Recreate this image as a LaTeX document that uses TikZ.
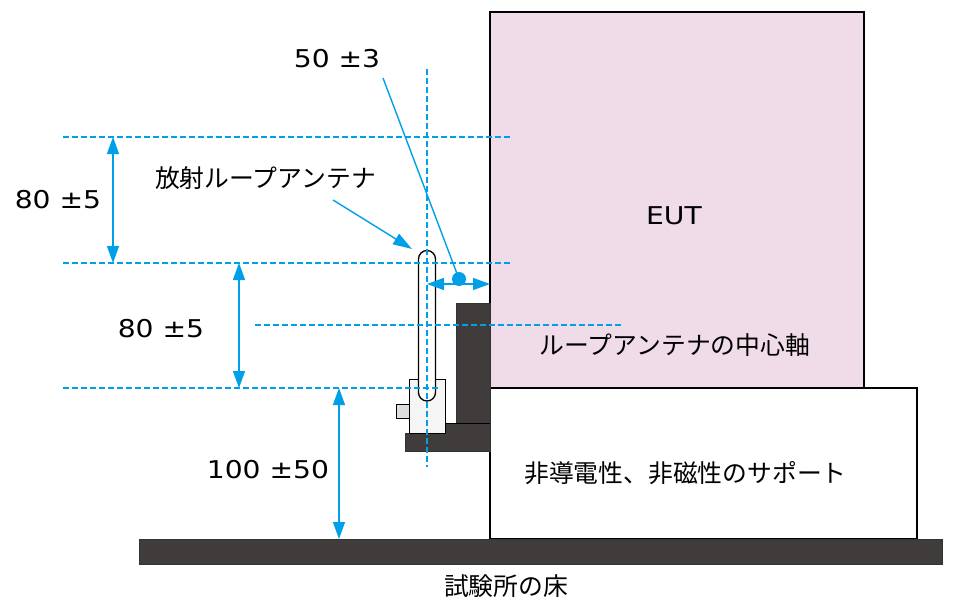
\documentclass[tikz,border=0pt]{standalone}
\usepackage{fontspec}
\setmainfont{Noto Sans CJK JP}
\newfontfamily\latinfont[FakeStretch=1.15]{DejaVu Sans}
\usetikzlibrary{arrows.meta}
\usetikzlibrary{calc}
\definecolor{dimblue}{HTML}{00A0E9}
\definecolor{eutpink}{HTML}{F0DCE9}
\definecolor{darkmetal}{HTML}{403C3B}
\tikzstyle{block} = [draw=black, line width=1.3pt]
\tikzstyle{darkblock} = [draw=black!80, fill=darkmetal, line width=0.8pt]
\tikzstyle{centerline} = [draw=dimblue, line width=1.2pt, dash pattern=on 6pt off 3pt]
\tikzstyle{arrow} = [draw=dimblue, line width=1.4pt, {Triangle[length=17pt,width=12pt]}-{Triangle[length=17pt,width=12pt]}]
\tikzstyle{leader} = [draw=dimblue, line width=1.4pt]
\tikzstyle{label} = [inner sep=0pt, font=\fontsize{24.8}{28}\selectfont]
\tikzstyle{number} = [inner sep=0pt, font=\fontsize{24.5}{28}\selectfont\latinfont]
\newcommand{\axisx}{427}

\begin{document}
\begin{tikzpicture}[x=1pt,y=-1pt]
  \useasboundingbox (0,0) rectangle (954,605);

  \coordinate (lineA) at (63,137);
  \coordinate (lineB) at (63,263);
  \coordinate (lineC) at (63,388);
  \coordinate (eutLeft) at (490,284);

  % EUT
  \draw [block, fill=eutpink] (490,12) rectangle (864,388);
  \node [number] (eutLabel) at (674,216) {EUT};

  % Support
  \draw [block, fill=white] (490,388) rectangle (917,539);

  % Floor
  \draw [darkblock] (139,539.5) rectangle (942,564.5);

  % Antenna mount
  \draw [darkblock] (456,303) -- (490,303) -- (490,451) -- (405,451) -- (405,433) -- (445,433) -- (445,423) -- (456,423) -- cycle;
  \draw [black, line width=0.8pt] (445,423) -- (490,423);
  \draw [block, line width=1pt, fill=black!13] (396,404) rectangle (409,418);
  \draw [block, line width=1pt, fill=black!4] (409,379) rectangle (445,433);

  % Loop antenna
  \draw [block, fill=white] (418.5,259) arc [start angle=180, end angle=360, radius=8.5] -- (435.5,392.5) arc [start angle=0, end angle=180, radius=8.5] -- cycle;

  % Dashed center lines
  \draw [centerline] (\axisx,69) -- (\axisx,467);
  \draw [centerline] (lineA) -- (512,137);
  \draw [centerline] (lineB) -- (512,263);
  \draw [centerline] (lineC) -- (440,388);
  \draw [centerline] (255,325) -- (622,325);

  % Dimensions
  \draw [arrow] (113,137) -- (113,263);
  \draw [arrow] (239,263) -- (239,388);
  \draw [arrow] (339,388) -- (339,539);
  \draw [arrow] (\axisx,284) -- (eutLeft);
  \node [number] (dimA) at (58,200) {80 ±5};
  \node [number] (dimB) at (161,329) {80 ±5};
  \node [number] (dimC) at (268,470) {100 ±50};
  \node [number] (dimD) at (337,59) {50 ±3};

  % Leaders
  \coordinate (dimDFoot) at (383,78);
  \coordinate (dimDDot) at (459,279);
  \draw [leader] (dimDFoot) -- (dimDDot);
  \fill [dimblue] (dimDDot) circle [radius=7];
  \coordinate (loopFoot) at (333,200);
  \coordinate (loopTip) at (412,249);
  \draw [leader, -{Triangle[length=19pt,width=12pt]}] (loopFoot) -- (loopTip);

  % Labels
  \node [label] (loopLabel) at (265.5,178) {放射ループアンテナ};
  \node [label] (axisLabel) at (675,345) {ループアンテナの中心軸};
  \node [label] (supportLabel) at (685.5,473) {非導電性、非磁性のサポート};
  \node [label] (floorLabel) at (506,586) {試験所の床};
\end{tikzpicture}
\end{document}
